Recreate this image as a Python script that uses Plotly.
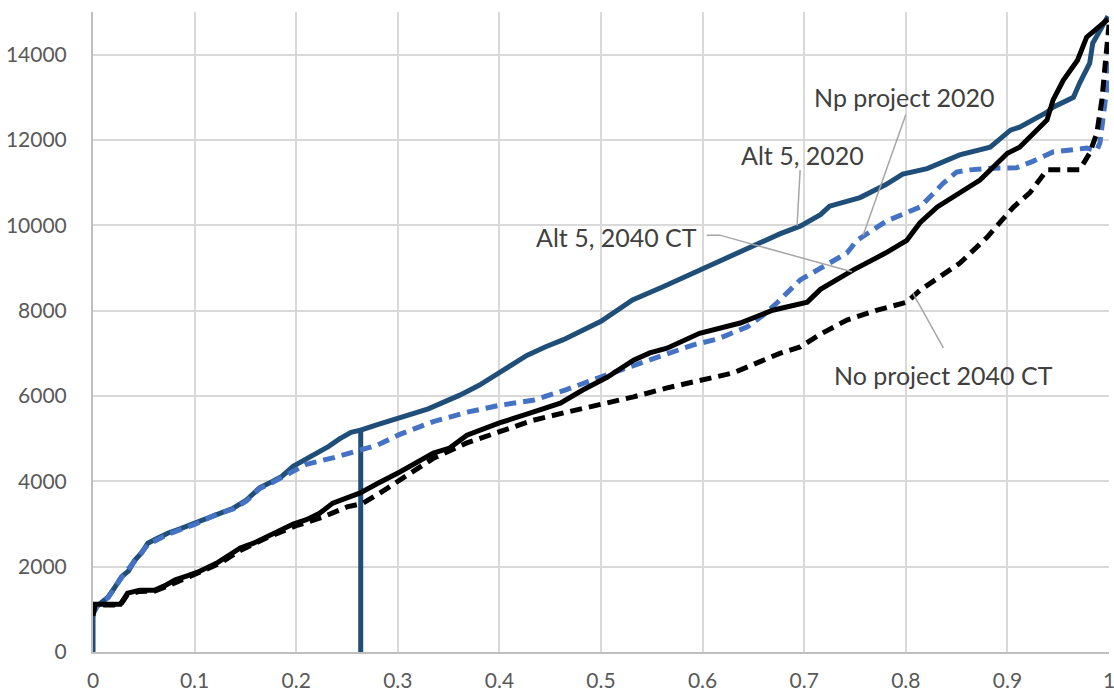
import plotly.graph_objects as go

# ---------------- data ----------------
alt5_2020_x = [0, 0, 0.005, 0.015, 0.021, 0.028, 0.035, 0.041, 0.048, 0.054, 0.062, 0.074, 0.085,
               0.1, 0.11, 0.123, 0.138, 0.151, 0.158, 0.164, 0.177, 0.185, 0.197, 0.21, 0.22, 0.232,
               0.243, 0.254, 0.2635, 0.2635, 0.2635, 0.28, 0.302, 0.33, 0.361, 0.38, 0.4, 0.427, 0.445,
               0.463, 0.5, 0.531, 0.56, 0.597, 0.63, 0.656, 0.676, 0.696, 0.716, 0.725, 0.755, 0.78,
               0.797, 0.821, 0.853, 0.883, 0.903, 0.912, 0.939, 0.945, 0.965, 0.971, 0.981, 0.984,
               0.991, 0.999]
alt5_2020_y = [0, 1000, 1100, 1290, 1500, 1760, 1900, 2150, 2330, 2550, 2650, 2790, 2880,
               3020, 3120, 3260, 3370, 3560, 3700, 3850, 4000, 4100, 4350, 4520, 4650, 4820,
               5000, 5150, 5200, 0, 5200, 5330, 5480, 5700, 6020, 6250, 6550, 6950, 7150,
               7320, 7750, 8250, 8550, 8950, 9300, 9600, 9800, 9980, 10250, 10450, 10650, 10950,
               11200, 11330, 11650, 11830, 12230, 12300, 12650, 12770, 13000, 13330, 13800, 14270,
               14580, 14900]

np_2020_x = [0, 0.005, 0.015, 0.028, 0.041, 0.054, 0.074, 0.1, 0.123, 0.138, 0.151, 0.164, 0.177,
             0.197, 0.21, 0.236, 0.26, 0.28, 0.302, 0.335, 0.368, 0.4, 0.433, 0.466, 0.499, 0.541,
             0.591, 0.614, 0.644, 0.66, 0.673, 0.696, 0.716, 0.742, 0.752, 0.758, 0.781, 0.814,
             0.837, 0.85, 0.863, 0.886, 0.909, 0.925, 0.945, 0.978, 0.988, 0.991, 0.994, 0.998, 1.0]
np_2020_y = [900, 1100, 1280, 1740, 2130, 2520, 2760, 2990, 3240, 3350, 3540, 3830, 3980,
             4250, 4400, 4550, 4700, 4850, 5100, 5400, 5620, 5780, 5900, 6150, 6440, 6790,
             7200, 7330, 7620, 7900, 8180, 8720, 8980, 9350, 9650, 9750, 10100, 10430,
             10990, 11250, 11300, 11340, 11350, 11500, 11720, 11810, 11760, 11930, 12540, 13240, 14500]

alt5_2040_x = [0, 0.002, 0.027, 0.034, 0.046, 0.061, 0.072, 0.081, 0.092, 0.103, 0.123, 0.145,
               0.158, 0.171, 0.185, 0.197, 0.21, 0.223, 0.236, 0.25, 0.263, 0.28, 0.302, 0.335,
               0.351, 0.368, 0.4, 0.433, 0.46, 0.482, 0.506, 0.532, 0.548, 0.565, 0.597, 0.637,
               0.669, 0.703, 0.716, 0.748, 0.78, 0.801, 0.814, 0.831, 0.853, 0.873, 0.9, 0.912,
               0.939, 0.945, 0.955, 0.969, 0.978, 0.988, 0.999]
alt5_2040_y = [900, 1120, 1120, 1380, 1450, 1450, 1570, 1690, 1780, 1870, 2100, 2440,
               2550, 2700, 2860, 3000, 3100, 3250, 3490, 3600, 3730, 3950, 4220, 4660,
               4780, 5080, 5370, 5620, 5830, 6140, 6440, 6840, 7010, 7120, 7470, 7710,
               8010, 8200, 8500, 8950, 9350, 9650, 10060, 10430, 10760, 11060, 11690, 11830,
               12470, 12940, 13400, 13870, 14410, 14620, 14830]

noproj_2040_x = [0, 0.002, 0.027, 0.034, 0.046, 0.061, 0.075, 0.1, 0.125, 0.145, 0.171, 0.2,
                 0.225, 0.25, 0.265, 0.282, 0.302, 0.335, 0.368, 0.4, 0.433, 0.466, 0.499, 0.532,
                 0.565, 0.63, 0.676, 0.696, 0.716, 0.742, 0.77, 0.801, 0.814, 0.853, 0.88, 0.906,
                 0.922, 0.939, 0.971, 0.981, 0.988, 0.993, 0.996, 0.998, 1.0]
noproj_2040_y = [850, 1100, 1100, 1350, 1420, 1430, 1560, 1830, 2080, 2380, 2680, 2960,
                 3150, 3400, 3480, 3720, 4030, 4540, 4900, 5150, 5430, 5620, 5790, 5980,
                 6190, 6540, 7000, 7150, 7450, 7780, 8000, 8200, 8480, 9110, 9720, 10430,
                 10760, 11300, 11300, 11690, 12160, 12940, 13710, 14410, 14700]

x_ticks = [0, 0.1, 0.2, 0.3, 0.4, 0.5, 0.6, 0.7, 0.8, 0.9, 1]
x_tick_labels = ["0", "0.1", "0.2", "0.3", "0.4", "0.5", "0.6", "0.7", "0.8", "0.9", "1"]
y_ticks = [0, 2000, 4000, 6000, 8000, 10000, 12000, 14000]
y_tick_labels = ["0", "2000", "4000", "6000", "8000", "10000", "12000", "14000"]

# label text, label position (x, y), leader path points
labels = ["Alt 5, 2020", "Np project 2020", "Alt 5, 2040 CT", "No project 2040 CT"]
label_pos = [(0.698, 11650), (0.799, 13010), (0.515, 9730), (0.837, 6490)]
label_leaders = [
    [(0.696, 11300), (0.693, 9990)],
    [(0.800, 12590), (0.758, 9770)],
    [(0.604, 9770), (0.617, 9770), (0.747, 8910)],
    [(0.807, 8410), (0.837, 7130)],
]

# ---------------- figure ----------------
FONT = "Lato, 'Open Sans', sans-serif"
fig = go.Figure()

series = [
    ("Alt 5, 2020", alt5_2020_x, alt5_2020_y, "#1F4E79", "solid"),
    ("Np project 2020", np_2020_x, np_2020_y, "#4472C4", "12px,7px"),
    ("No project 2040 CT", noproj_2040_x, noproj_2040_y, "#000000", "12px,7px"),
    ("Alt 5, 2040 CT", alt5_2040_x, alt5_2040_y, "#000000", "solid"),
]
for name, xs, ys, col, dash in series:
    fig.add_trace(go.Scatter(x=xs, y=ys, mode="lines", name=name,
                             line=dict(color=col, width=5, dash=dash),
                             hoverinfo="skip", cliponaxis=False))

for pts in label_leaders:
    path = "M " + " L ".join(f"{px},{py}" for px, py in pts)
    fig.add_shape(type="path", path=path, xref="x", yref="y",
                  line=dict(color="#A6A6A6", width=1.5), layer="above")

for txt, (lx, ly) in zip(labels, label_pos):
    fig.add_annotation(x=lx, y=ly, xref="x", yref="y", text=txt, showarrow=False,
                       font=dict(family=FONT, size=25, color="#404040"),
                       xanchor="center", yanchor="middle")

fig.update_layout(
    width=1114, height=691,
    margin=dict(l=93, r=5, t=12, b=39),
    paper_bgcolor="white", plot_bgcolor="white",
    showlegend=False,
    font=dict(family=FONT, size=21, color="#595959"),
    xaxis=dict(range=[0, 1], tickvals=x_ticks, ticktext=x_tick_labels,
               showgrid=True, gridcolor="#D9D9D9", gridwidth=2,
               zeroline=False, showline=True, linecolor="#BFBFBF", linewidth=2,
               ticks="", ticklabelstandoff=9, automargin=False,
               ticklabeloverflow="allow",
               tickfont=dict(family=FONT, size=21, color="#595959")),
    yaxis=dict(range=[0, 15000], tickvals=y_ticks, ticktext=y_tick_labels,
               showgrid=True, gridcolor="#D9D9D9", gridwidth=2,
               zeroline=False, showline=True, linecolor="#BFBFBF", linewidth=2,
               ticks="", ticklabelstandoff=20, automargin=False,
               tickfont=dict(family=FONT, size=21, color="#595959")),
)

fig.write_html("out.html", config={"displayModeBar": False},
               post_script="document.body.style.margin='0';document.body.style.overflow='hidden';")
